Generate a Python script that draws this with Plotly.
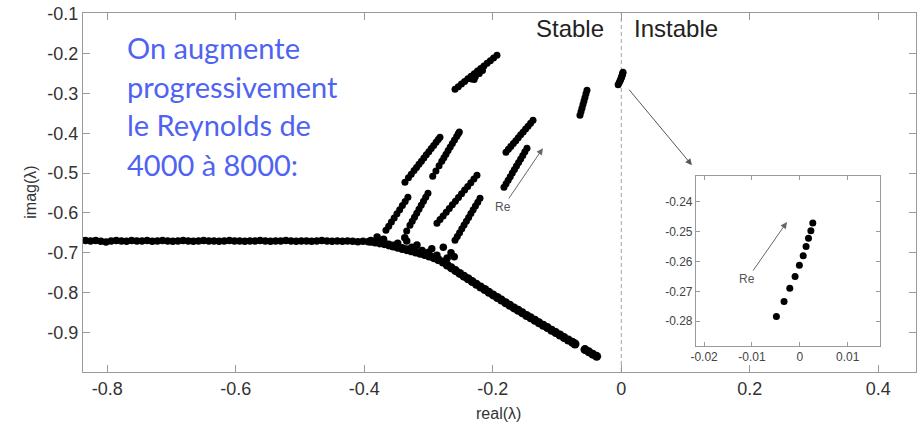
import plotly.graph_objects as go

# ---------------- data ----------------
# horizontal branch
hb_x = [-0.834, -0.826, -0.818, -0.810, -0.802, -0.794, -0.786, -0.778, -0.770, -0.762,
        -0.754, -0.746, -0.738, -0.730, -0.722, -0.714, -0.706, -0.698, -0.690, -0.682,
        -0.674, -0.666, -0.658, -0.650, -0.642, -0.634, -0.626, -0.618, -0.610, -0.602,
        -0.594, -0.586, -0.578, -0.570, -0.562, -0.554, -0.546, -0.538, -0.530, -0.522,
        -0.514, -0.506, -0.498, -0.490, -0.482, -0.474, -0.466, -0.458, -0.450, -0.442,
        -0.434, -0.426, -0.418, -0.410, -0.402, -0.394]
hb_y = [-0.669, -0.670, -0.669, -0.671, -0.673, -0.670, -0.669, -0.670, -0.671, -0.669,
        -0.670, -0.670, -0.669, -0.671, -0.670, -0.669, -0.670, -0.671, -0.670, -0.669,
        -0.670, -0.671, -0.670, -0.669, -0.670, -0.670, -0.671, -0.670, -0.669, -0.670,
        -0.670, -0.671, -0.670, -0.670, -0.669, -0.670, -0.671, -0.670, -0.670, -0.669,
        -0.670, -0.671, -0.670, -0.670, -0.671, -0.670, -0.669, -0.670, -0.671, -0.670,
        -0.671, -0.670, -0.671, -0.672, -0.671, -0.672]

# lower branch
lb_x = [-0.390, -0.383, -0.376, -0.369, -0.362, -0.355, -0.348, -0.341, -0.334, -0.327,
        -0.320, -0.313, -0.306, -0.299, -0.292, -0.285, -0.2775,
        -0.271, -0.2645, -0.258, -0.2515, -0.245, -0.2385, -0.232, -0.2255, -0.219, -0.2125,
        -0.206, -0.1995, -0.193, -0.1865, -0.180, -0.1735, -0.167, -0.1605, -0.154, -0.1475,
        -0.141, -0.1345, -0.128, -0.1215, -0.115, -0.1085, -0.102, -0.0955, -0.089, -0.0825,
        -0.076, -0.072,
        -0.0565, -0.0505, -0.0445, -0.0383]
lb_y = [-0.671, -0.673, -0.675, -0.677, -0.680, -0.683, -0.686, -0.689, -0.692, -0.695,
        -0.698, -0.701, -0.704, -0.708, -0.712, -0.717, -0.723,
        -0.7305, -0.7375, -0.7445, -0.7515, -0.7585, -0.765, -0.772, -0.779, -0.7855, -0.792,
        -0.799, -0.8055, -0.812, -0.8185, -0.825, -0.8315, -0.838, -0.844, -0.8505, -0.857,
        -0.863, -0.869, -0.8755, -0.8815, -0.8875, -0.894, -0.900, -0.906, -0.9125, -0.9185,
        -0.9245, -0.9285,
        -0.9426, -0.9483, -0.9540, -0.9595]

# junction cluster
jc_x = [-0.380, -0.370, -0.357, -0.348, -0.337, -0.334, -0.326, -0.318, -0.310, -0.300,
        -0.295, -0.287, -0.277, -0.271, -0.265, -0.260]
jc_y = [-0.660, -0.666, -0.682, -0.676, -0.662, -0.670, -0.686, -0.680, -0.694, -0.6985,
        -0.690, -0.706, -0.686, -0.713, -0.700, -0.710]

# upper streaks
a_x = [-0.2588, -0.2538, -0.2488, -0.2438, -0.2388, -0.2338, -0.2288, -0.2238, -0.2188, -0.2138,
       -0.2088, -0.2038, -0.1988, -0.1935, -0.2330, -0.2270, -0.2210, -0.2160, -0.2290]
a_y = [-0.2898, -0.2833, -0.2768, -0.2702, -0.2637, -0.2572, -0.2507, -0.2442, -0.2376, -0.2311,
       -0.2246, -0.2181, -0.2116, -0.2046, -0.2640, -0.2580, -0.2500, -0.2430, -0.2650]

b_x = [-0.0643, -0.0627, -0.0612, -0.0596, -0.0581, -0.0565, -0.0550, -0.0534]
b_y = [-0.3550, -0.3460, -0.3371, -0.3281, -0.3192, -0.3102, -0.3013, -0.2923]

d_x = [-0.1795, -0.1757, -0.1719, -0.1680, -0.1642, -0.1604, -0.1566, -0.1527, -0.1489, -0.1451,
       -0.1412, -0.1374]
d_y = [-0.4478, -0.4405, -0.4332, -0.4259, -0.4186, -0.4114, -0.4041, -0.3968, -0.3895, -0.3822,
       -0.3749, -0.3676]

e_x = [-0.1826, -0.1793, -0.1761, -0.1728, -0.1696, -0.1663, -0.1631, -0.1598, -0.1566, -0.1533,
       -0.1501, -0.1468]
e_y = [-0.5356, -0.5267, -0.5178, -0.5089, -0.5000, -0.4911, -0.4822, -0.4734, -0.4645, -0.4556,
       -0.4467, -0.4378]

f_x = [-0.3367, -0.3313, -0.3269, -0.3225, -0.3187, -0.3149, -0.3111, -0.3073, -0.3035, -0.2996,
       -0.2958, -0.2920, -0.2882, -0.2849, -0.2822]
f_y = [-0.5231, -0.5118, -0.5028, -0.4937, -0.4858, -0.4779, -0.4700, -0.4621, -0.4542, -0.4463,
       -0.4384, -0.4305, -0.4226, -0.4158, -0.4102]

g_x = [-0.2935, -0.2885, -0.2836, -0.2794, -0.2761, -0.2728, -0.2695, -0.2662, -0.2629, -0.2596,
       -0.2562, -0.2538, -0.2521]
g_y = [-0.5080, -0.4947, -0.4813, -0.4702, -0.4613, -0.4525, -0.4436, -0.4347, -0.4258, -0.4169,
       -0.4080, -0.4013, -0.3969]

h_x = [-0.3663, -0.3620, -0.3578, -0.3535, -0.3492, -0.3449, -0.3407, -0.3364, -0.3321]
h_y = [-0.6434, -0.6331, -0.6227, -0.6124, -0.6021, -0.5917, -0.5814, -0.5710, -0.5607]

i_x = [-0.3340, -0.3289, -0.3254, -0.3219, -0.3184, -0.3149, -0.3114, -0.3079, -0.3044, -0.3009]
i_y = [-0.6450, -0.6309, -0.6209, -0.6108, -0.6008, -0.5908, -0.5807, -0.5707, -0.5606, -0.5506]

j_x = [-0.2869, -0.2821, -0.2773, -0.2725, -0.2677, -0.2629, -0.2582, -0.2534, -0.2486, -0.2438,
       -0.2390, -0.2342, -0.2294, -0.2246]
j_y = [-0.6259, -0.6166, -0.6074, -0.5981, -0.5889, -0.5796, -0.5704, -0.5611, -0.5518, -0.5426,
       -0.5333, -0.5241, -0.5148, -0.5055]

k_x = [-0.2588, -0.2553, -0.2517, -0.2482, -0.2447, -0.2411, -0.2376, -0.2341, -0.2305, -0.2270,
       -0.2234, -0.2199]
k_y = [-0.6685, -0.6589, -0.6494, -0.6398, -0.6302, -0.6206, -0.6111, -0.6015, -0.5919, -0.5823,
       -0.5728, -0.5632]

# unstable mode (also shown in the inset)
c_x = [0.0027, 0.0023, 0.0018, 0.0013, 0.0007, -0.0001, -0.0010, -0.0021, -0.0033, -0.0049]
c_y = [-0.2471, -0.2497, -0.2522, -0.2550, -0.2581, -0.2613, -0.2650, -0.2690, -0.2734, -0.2784]

x_ticks = [-0.8, -0.6, -0.4, -0.2, 0, 0.2, 0.4]
x_tick_text = ["-0.8", "-0.6", "-0.4", "-0.2", "0", "0.2", "0.4"]
y_ticks = [-0.9, -0.8, -0.7, -0.6, -0.5, -0.4, -0.3, -0.2, -0.1]
y_tick_text = ["-0.9", "-0.8", "-0.7", "-0.6", "-0.5", "-0.4", "-0.3", "-0.2", "-0.1"]
ix_ticks = [-0.02, -0.01, 0, 0.01]
ix_tick_text = ["-0.02", "-0.01", "0", "0.01"]
iy_ticks = [-0.28, -0.27, -0.26, -0.25, -0.24]
iy_tick_text = ["-0.28", "-0.27", "-0.26", "-0.25", "-0.24"]

note_lines = ["On augmente", "progressivement", "le Reynolds de", "4000 à 8000:"]

# ---------------- figure ----------------
fig = go.Figure()

def dots(xs, ys, size=8, xa="x", ya="y"):
    fig.add_trace(go.Scatter(x=xs, y=ys, mode="markers", xaxis=xa, yaxis=ya,
                             marker=dict(color="black", size=size, line=dict(width=0)),
                             showlegend=False, hoverinfo="skip"))

dots(hb_x, hb_y, 7.5)
dots(lb_x, lb_y, 9)
dots(jc_x, jc_y, 7.5)
for xs, ys in [(a_x, a_y), (b_x, b_y), (d_x, d_y), (e_x, e_y), (f_x, f_y), (g_x, g_y),
               (h_x, h_y), (i_x, i_y), (j_x, j_y), (k_x, k_y), (c_x, c_y)]:
    dots(xs, ys, 7)
dots(c_x, c_y, 7, "x2", "y2")

axis_col = "#9a9a9a"
tick_font = dict(family="Liberation Sans, Arial, sans-serif", size=18, color="#333333")
inset_font = dict(family="Liberation Sans, Arial, sans-serif", size=12, color="#444444")

fig.update_layout(
    width=917, height=424,
    margin=dict(l=83, r=1, t=13, b=52),
    paper_bgcolor="white", plot_bgcolor="white",
    xaxis=dict(range=[-0.8378, 0.4587], tickvals=x_ticks, ticktext=x_tick_text,
               showgrid=False, zeroline=False, showline=True, linecolor=axis_col, linewidth=1,
               mirror="ticks", ticks="inside", ticklen=7, tickcolor=axis_col,
               tickfont=tick_font, anchor="y", domain=[0, 1]),
    yaxis=dict(range=[-0.9988, -0.0985], tickvals=y_ticks, ticktext=y_tick_text,
               showgrid=False, zeroline=False, showline=True, linecolor=axis_col, linewidth=1,
               mirror="ticks", ticks="inside", ticklen=7, tickcolor=axis_col,
               tickfont=tick_font, anchor="x", domain=[0, 1]),
    xaxis2=dict(range=[-0.0217, 0.0167], tickvals=ix_ticks, ticktext=ix_tick_text,
                showgrid=False, zeroline=False, showline=True, linecolor=axis_col, linewidth=1,
                mirror="ticks", ticks="inside", ticklen=4, tickcolor=axis_col,
                tickfont=inset_font, anchor="y2", domain=[0.7358, 0.9566]),
    yaxis2=dict(range=[-0.2883, -0.2314], tickvals=iy_ticks, ticktext=iy_tick_text,
                showgrid=False, zeroline=False, showline=True, linecolor=axis_col, linewidth=1,
                mirror="ticks", ticks="inside", ticklen=4, tickcolor=axis_col,
                tickfont=inset_font, anchor="x2", domain=[0.0724, 0.546]),
)

# dashed stability boundaries
fig.add_shape(type="line", xref="x", yref="y domain", x0=0, x1=0, y0=0, y1=1,
              line=dict(color="#a0a0a0", width=1, dash="4px,3px"), layer="below")
fig.add_shape(type="line", xref="x2", yref="y2 domain", x0=0, x1=0, y0=0, y1=1,
              line=dict(color="#a0a0a0", width=1, dash="4px,3px"), layer="below")

label_font = dict(family="Liberation Sans, Arial, sans-serif", color="#222222")

anns = [
    dict(text="Stable", x=-0.0798, y=-0.1369, xref="x", yref="y", showarrow=False,
         xanchor="center", yanchor="middle", font=dict(size=24, **label_font)),
    dict(text="Instable", x=0.0167, y=-0.1369, xref="x", yref="y", showarrow=False,
         xanchor="left", yanchor="middle", font=dict(size=24, **label_font)),
    dict(text="real(λ)", x=(497 - 83) / 829, y=(372 - 413) / 359, xref="paper", yref="paper",
         showarrow=False, xanchor="center", yanchor="middle",
         font=dict(family="Liberation Sans, Arial, sans-serif", size=16, color="#333333")),
    dict(text="imag(λ)", x=(30 - 83) / 829, y=(372 - 192) / 359, xref="paper", yref="paper",
         showarrow=False, xanchor="center", yanchor="middle", textangle=-90,
         font=dict(family="Liberation Sans, Arial, sans-serif", size=16, color="#333333")),
    # arrow from the unstable mode to the inset
    dict(text="", x=0.110, y=-0.4804, ax=0.0104, ay=-0.2873, xref="x", yref="y",
         axref="x", ayref="y", showarrow=True, arrowhead=2, arrowsize=1.3, arrowwidth=1,
         arrowcolor="#555555"),
    # Re arrow main
    dict(text="Re", x=-0.122, y=-0.4375, ax=-0.184, ay=-0.585, xref="x", yref="y",
         axref="x", ayref="y", showarrow=True, arrowhead=2, arrowsize=1.3, arrowwidth=1,
         arrowcolor="#666666", font=dict(family="Liberation Sans, Arial, sans-serif",
                                          size=12, color="#555555")),
    # Re arrow inset
    dict(text="Re", x=-0.0027, y=-0.2468, ax=-0.011, ay=-0.2659, xref="x2", yref="y2",
         axref="x2", ayref="y2", showarrow=True, arrowhead=2, arrowsize=1.3, arrowwidth=1,
         arrowcolor="#666666", font=dict(family="Liberation Sans, Arial, sans-serif",
                                          size=12, color="#555555")),
]
# blue note, one annotation per line (line centres in pixels from the top)
for line, py in zip(note_lines, [47, 86, 125, 164]):
    anns.append(dict(text=line, x=0.0507, y=(372 - py) / 359, xref="paper", yref="paper",
                     showarrow=False, xanchor="left", yanchor="middle", align="left",
                     font=dict(family="Lato, sans-serif", size=29, color="#4f63f2")))
fig.update_layout(annotations=anns)

fig.write_html("out.html")
